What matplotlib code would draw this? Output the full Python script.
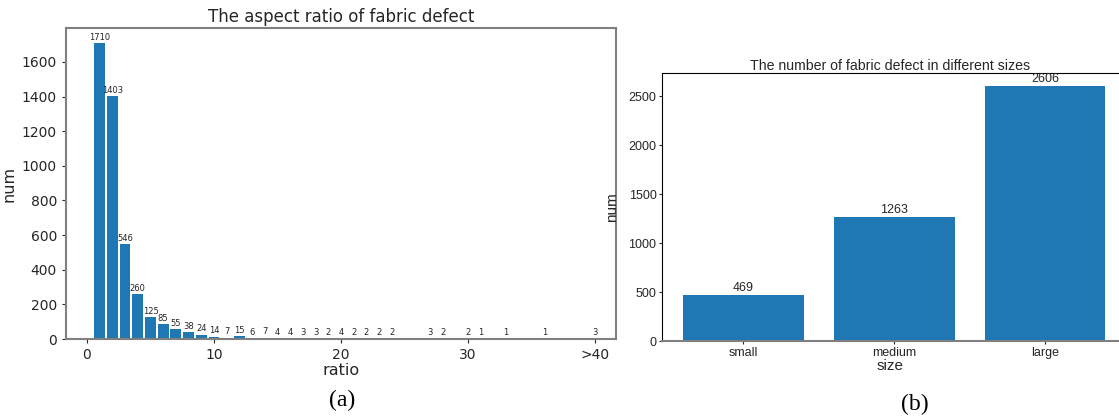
import matplotlib.pyplot as plt
import numpy as np

# -- data
ratio_x = [1, 2, 3, 4, 5, 6, 7, 8, 9, 10, 11, 12, 13, 14, 15, 16, 17, 18,
           19, 20, 21, 22, 23, 24, 27, 28, 30, 31, 33, 36, 40]
ratio_num = [1710, 1403, 546, 260, 125, 85, 55, 38, 24, 14, 7, 15, 6, 7, 4, 4,
             3, 3, 2, 4, 2, 2, 2, 2, 3, 2, 2, 1, 1, 1, 3]
ratio_ticks = [0, 10, 20, 30, 40]
ratio_ticklabels = ['0', '10', '20', '30', '>40']

sizes = ['small', 'medium', 'large']
size_num = [469, 1263, 2606]

blue = '#1f77b4'
txt = '#262626'
spine = '#808080'

fig = plt.figure(figsize=(11.19, 4.19), dpi=100)

# -- a) aspect ratio
ax1 = fig.add_axes([66 / 1119, 80 / 419, 550 / 1119, 311 / 419])
ax1.bar(ratio_x, ratio_num, width=0.85, color=blue)
for x, v in zip(ratio_x, ratio_num):
    ax1.text(x, v + 8, str(v), ha='center', va='bottom', fontsize=6, color=txt)
ax1.set_xlim(-1.65, 41.65)
ax1.set_ylim(0, 1796)
ax1.set_xticks(ratio_ticks)
ax1.set_xticklabels(ratio_ticklabels)
ax1.set_yticks(range(0, 1601, 200))
ax1.tick_params(labelsize=10, colors=txt, length=3)
for s in ax1.spines.values():
    s.set_color(spine)
    s.set_linewidth(1.5)
ax1.set_title("The aspect ratio of fabric defect", fontsize=12, color=txt, pad=4)
ax1.set_xlabel("ratio", fontsize=11.5, color=txt, labelpad=1)
ax1.set_ylabel("num", fontsize=11.5, color=txt, labelpad=4)

# -- b) size categories, narrower font like the reference
nar = dict(family='Liberation Sans')
ax2 = fig.add_axes([662 / 1119, 78 / 419, 457 / 1119, 268 / 419])
ax2.bar(sizes, size_num, width=0.8, color=blue)
for i, v in enumerate(size_num):
    ax2.text(i, v + 12, str(v), ha='center', va='bottom', fontsize=9, color=txt, **nar)
ax2.set_xlim(-0.54, 2.49)
ax2.set_ylim(0, 2737)
ax2.set_yticks(range(0, 2501, 500))
ax2.tick_params(labelsize=9, colors=txt, length=2, pad=2)
for lab in ax2.get_xticklabels() + ax2.get_yticklabels():
    lab.set_family(nar['family'])
ax2.spines['right'].set_visible(False)
ax2.spines['bottom'].set_color(spine)
ax2.spines['bottom'].set_linewidth(1.5)
ax2.set_title("The number of fabric defect in different sizes", fontsize=10.2,
              color=txt, pad=2, **nar)
ax2.set_xlabel("size", fontsize=11, color=txt, labelpad=0, **nar)
ax2.set_ylabel("num", fontsize=11, color=txt, **nar)
ax2.yaxis.set_label_coords(-0.095, 0.5)

fig.text(342 / 1119, 1 - 400 / 419, "(a)", ha='center', va='center',
         fontsize=17, family='Liberation Serif')
fig.text(915 / 1119, 1 - 404 / 419, "(b)", ha='center', va='center',
         fontsize=17, family='Liberation Serif')

fig.savefig('out.png', dpi=100)
